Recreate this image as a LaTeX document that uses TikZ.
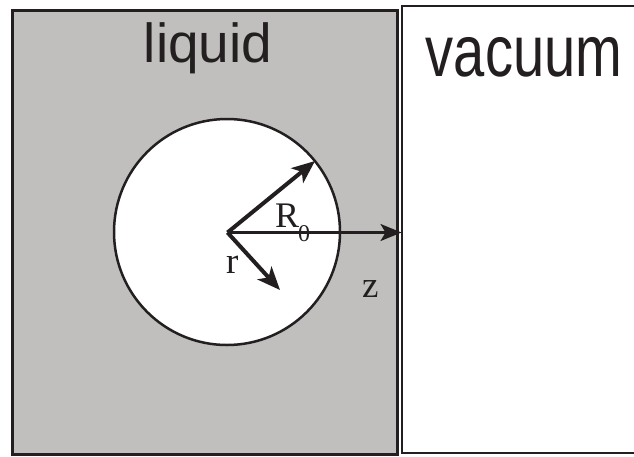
\documentclass[tikz,border=0pt]{standalone}
\usepackage{fontspec}
\setmainfont{Liberation Serif}
\newfontfamily\arialfont{Liberation Sans}
\usetikzlibrary{arrows.meta}
\definecolor{liquidgrey}{RGB}{192,191,189}
\definecolor{ink}{RGB}{35,31,32}
\tikzset{
  bigarrow/.style={ink, line width=4pt, -{Stealth[length=23pt,width=19pt,inset=6pt]}},
  thinarrow/.style={ink, line width=2.2pt, -{Stealth[length=21pt,width=17pt,inset=5pt]}},
  sanslabel/.style={inner sep=0pt, anchor=base, font=\arialfont\fontsize{55}{55}\selectfont, text=ink},
  seriflabel/.style={inner sep=0pt, anchor=base west, font=\fontsize{37}{37}\selectfont, text=ink}
}
\begin{document}
\begin{tikzpicture}[x=1pt,y=-1pt]
\useasboundingbox (0,0) rectangle (634,456);
\fill[white] (0,0) rectangle (634,456);
% liquid region
\draw[ink, fill=liquidgrey, line width=3pt] (12,10) rectangle (397,454.5);
% vacuum region
\draw[ink, line width=2pt] (402,6) rectangle (645,452.5);
% bubble
\node[circle, draw=ink, fill=white, line width=2.5pt, minimum size=226pt, inner sep=0pt] (bubble) at (227,232) {};
\coordinate (c) at (227.5,232.5);
\coordinate (Rtip) at (315,161);
\coordinate (rtip) at (280,290);
\coordinate (ztip) at (401.5,232.5);
\draw[thinarrow] (c) -- (ztip);
\draw[bigarrow] (c) -- (Rtip);
\draw[bigarrow] (c) -- (rtip);
% labels
\node[sanslabel] (liquid) at (208,62) {liquid};
\node[sanslabel] (vacuum) at (524,76.5) {\scalebox{1.02}[1.32]{vacuum}};
\node[seriflabel, font=\fontsize{36}{36}\selectfont] (R0) at (275,227.5) {R\hspace{-1pt}\raisebox{-14pt}{\fontsize{24}{24}\selectfont 0}};
\node[seriflabel] (rlab) at (226,273.3) {r};
\node[seriflabel] (zlab) at (362,297) {z};
\end{tikzpicture}
\end{document}
